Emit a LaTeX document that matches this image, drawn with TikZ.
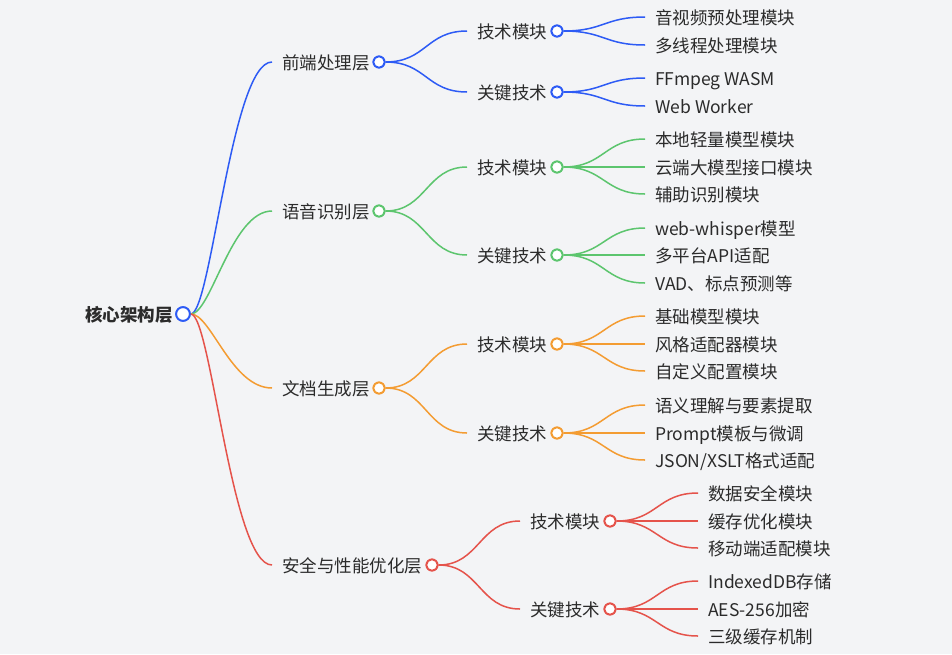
\documentclass[tikz,border=0pt]{standalone}
\usepackage{fontspec}
\setmainfont{Noto Sans CJK SC}
\usetikzlibrary{calc}
\definecolor{bg}{HTML}{F3F4F6}
\definecolor{tx}{HTML}{2B2B2B}
\definecolor{cB}{HTML}{2D5BF5}
\definecolor{cG}{HTML}{5CC56E}
\definecolor{cO}{HTML}{F39C32}
\definecolor{cR}{HTML}{E5534B}
\tikzset{
  txt/.style={anchor=west, inner sep=0pt, text=tx, font=\fontsize{17.5}{20}\selectfont, text height=16.6pt, text depth=0.9pt},
  roottxt/.style={txt, anchor=east, font=\fontsize{17.5}{20}\selectfont\bfseries},
  dot/.style={circle, draw=#1, fill=white, line width=1.6pt, minimum size=11.5pt, inner sep=0pt},
  bigdot/.style={dot=#1, minimum size=14pt},
  lk/.style={draw=#1, line width=1.5pt},
}
% link from circle to text node, ending 10pt before the text
\newcommand\lnk[3]{\path[lk=#1] let \p1=(#2.east), \p2=([xshift=-10pt]#3.west) in (\p1) .. controls ({(\x1+\x2)/2},\y1) and ({(\x1+\x2)/2},\y2) .. (\p2);}
\newcommand\rlnk[3]{\path[lk=#1] let \p1=(#2.east), \p2=([xshift=-10pt]#3.west) in (\p1) .. controls ({\x1+0.25*(\x2-\x1)},\y1) and ({(\x1+\x2)/2},\y2) .. (\p2);}
\begin{document}
\begin{tikzpicture}[x=1pt,y=-1pt]
\fill[bg] (0,0) rectangle (952,654);
\useasboundingbox (0,0) rectangle (952,654);
% root
\node[roottxt] (r) at (173,314) {核心架构层};
% level 1
\node[txt] (a) at (282,62) {前端处理层};
\node[txt] (b) at (282,211) {语音识别层};
\node[txt] (c) at (282,388) {文档生成层};
\node[txt] (d) at (282,565) {安全与性能优化层};
% level 2
\node[txt] (a1) at (477,31) {技术模块};
\node[txt] (a2) at (477,92) {关键技术};
\node[txt] (b1) at (477,167) {技术模块};
\node[txt] (b2) at (477,255) {关键技术};
\node[txt] (c1) at (477,344) {技术模块};
\node[txt] (c2) at (477,433) {关键技术};
\node[txt] (d1) at (530,521) {技术模块};
\node[txt] (d2) at (530,609) {关键技术};
% level 3
\node[txt] (a11) at (655,17) {音视频预处理模块};
\node[txt] (a12) at (655,45) {多线程处理模块};
\node[txt] (a21) at (655,78) {FFmpeg WASM};
\node[txt] (a22) at (655,106) {Web Worker};
\node[txt] (b11) at (655,139) {本地轻量模型模块};
\node[txt] (b12) at (655,167) {云端大模型接口模块};
\node[txt] (b13) at (655,194) {辅助识别模块};
\node[txt] (b21) at (655,228) {web-whisper模型};
\node[txt] (b22) at (655,255) {多平台API适配};
\node[txt] (b23) at (655,283) {VAD、标点预测等};
\node[txt] (c11) at (655,316) {基础模型模块};
\node[txt] (c12) at (655,344) {风格适配器模块};
\node[txt] (c13) at (655,371) {自定义配置模块};
\node[txt] (c21) at (655,405) {语义理解与要素提取};
\node[txt] (c22) at (655,433) {Prompt模板与微调};
\node[txt] (c23) at (655,460) {JSON/XSLT格式适配};
\node[txt] (d11) at (708,493) {数据安全模块};
\node[txt] (d12) at (708,521) {缓存优化模块};
\node[txt] (d13) at (708,548) {移动端适配模块};
\node[txt] (d21) at (708,581) {IndexedDB存储};
\node[txt] (d22) at (708,609) {AES-256加密};
\node[txt] (d23) at (708,636) {三级缓存机制};
% circles (nodes used as link anchors)
\node[bigdot=cB] (rc) at (183,314) {};
\node[dot=cB] (ac) at (379,62) {};
\node[dot=cG] (bc) at (379,211) {};
\node[dot=cO] (cc) at (379,388) {};
\node[dot=cR] (dc) at (432,565) {};
\node[dot=cB] (a1c) at (557,31) {};
\node[dot=cB] (a2c) at (557,92) {};
\node[dot=cG] (b1c) at (557,167) {};
\node[dot=cG] (b2c) at (557,255) {};
\node[dot=cO] (c1c) at (557,344) {};
\node[dot=cO] (c2c) at (557,433) {};
\node[dot=cR] (d1c) at (610,521) {};
\node[dot=cR] (d2c) at (610,609) {};
% links
\rlnk{cB}{rc}{a}
\rlnk{cG}{rc}{b}
\rlnk{cO}{rc}{c}
\rlnk{cR}{rc}{d}
\lnk{cB}{ac}{a1}\lnk{cB}{ac}{a2}
\lnk{cG}{bc}{b1}\lnk{cG}{bc}{b2}
\lnk{cO}{cc}{c1}\lnk{cO}{cc}{c2}
\lnk{cR}{dc}{d1}\lnk{cR}{dc}{d2}
\lnk{cB}{a1c}{a11}\lnk{cB}{a1c}{a12}
\lnk{cB}{a2c}{a21}\lnk{cB}{a2c}{a22}
\lnk{cG}{b1c}{b11}\lnk{cG}{b1c}{b12}\lnk{cG}{b1c}{b13}
\lnk{cG}{b2c}{b21}\lnk{cG}{b2c}{b22}\lnk{cG}{b2c}{b23}
\lnk{cO}{c1c}{c11}\lnk{cO}{c1c}{c12}\lnk{cO}{c1c}{c13}
\lnk{cO}{c2c}{c21}\lnk{cO}{c2c}{c22}\lnk{cO}{c2c}{c23}
\lnk{cR}{d1c}{d11}\lnk{cR}{d1c}{d12}\lnk{cR}{d1c}{d13}
\lnk{cR}{d2c}{d21}\lnk{cR}{d2c}{d22}\lnk{cR}{d2c}{d23}
% redraw circles on top of the links
\draw[cB, fill=white, line width=1.8pt] (rc) circle (6.8pt);
\foreach \n/\col in {ac/cB,bc/cG,cc/cO,dc/cR,a1c/cB,a2c/cB,b1c/cG,b2c/cG,c1c/cO,c2c/cO,d1c/cR,d2c/cR}{
  \draw[\col, fill=white, line width=1.6pt] (\n) circle (5.6pt);
}
\end{tikzpicture}
\end{document}
